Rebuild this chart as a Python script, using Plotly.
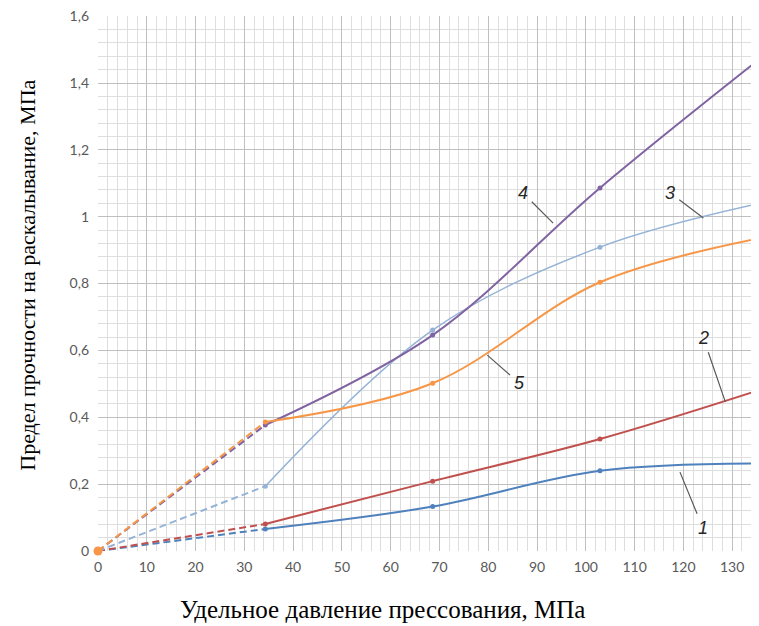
import plotly.graph_objects as go

# ---- data ----
pressure = [0, 34.3, 68.6, 102.9, 137.2]          # MPa
s1 = [0, 0.066, 0.133, 0.240, 0.262]
s2 = [0, 0.081, 0.209, 0.335, 0.489]
s3 = [0, 0.194, 0.661, 0.909, 1.045]
s4 = [0, 0.377, 0.646, 1.086, 1.490]
s5 = [0, 0.386, 0.502, 0.804, 0.940]
series = [s1, s2, s3, s4, s5]
curve_names = ["1", "2", "3", "4", "5"]
y_ticks = [0, 0.2, 0.4, 0.6, 0.8, 1.0, 1.2, 1.4, 1.6]
y_ticktext = ["0", "0,2", "0,4", "0,6", "0,8", "1", "1,2", "1,4", "1,6"]
x_ticks = list(range(0, 131, 10))

colors = ["#4f81bd", "#c0504d", "#95b3d7", "#8064a2", "#f79646"]
widths = [2, 2, 1.5, 2, 2]

fig = go.Figure()
for ser, c, w in zip(series, colors, widths):
    # dashed initial segment (extrapolated to origin)
    fig.add_trace(go.Scatter(
        x=pressure[:2], y=ser[:2], mode="lines",
        line=dict(color=c, width=w + 0.5 if w < 2 else w, dash="7px,4px"),
        hoverinfo="skip", showlegend=False))
    # smoothed solid part
    fig.add_trace(go.Scatter(
        x=pressure[1:], y=ser[1:], mode="lines+markers",
        line=dict(color=c, width=w, shape="spline", smoothing=1.0),
        marker=dict(color=c, size=5),
        showlegend=False))

# origin marker
fig.add_trace(go.Scatter(x=pressure[:1], y=s5[:1], mode="markers",
                         marker=dict(color="#f79646", size=9),
                         cliponaxis=False, showlegend=False))

# curve labels with leader lines: (x, y) on curve, (ax, ay) pixel offset of text
label_pos = {
    "4": (93.3, 0.981, -30, -30),
    "3": (124.1, 0.996, -33, -25),
    "5": (79.8, 0.586, 32, 28),
    "2": (128.6, 0.446, -22, -64),
    "1": (119.3, 0.236, 23, 56),
}
for name in curve_names:
    x, y, ax, ay = label_pos[name]
    fig.add_annotation(x=x, y=y, ax=ax, ay=ay, text=f"<i>{name}</i>",
                       showarrow=True, arrowhead=0, arrowwidth=1.2,
                       arrowcolor="#595959", startstandoff=3,
                       font=dict(family="Liberation Sans", size=18, color="#262626"))

fig.add_annotation(xref="paper", yref="paper", x=0.431, y=-0.110,
                   text="Удельное давление прессования, МПа", showarrow=False,
                   xanchor="center", yanchor="middle",
                   font=dict(family="Liberation Serif", size=25, color="#000000"))
fig.add_annotation(xref="paper", yref="paper", x=-0.107, y=0.515,
                   text="Предел прочности на раскалывание, МПа", showarrow=False,
                   textangle=-90, xanchor="center", yanchor="middle",
                   font=dict(family="Liberation Serif", size=22, color="#000000"))

tickfont = dict(family="Lato", size=14, color="#595959")
fig.update_xaxes(range=[0, 135.5], tickvals=x_ticks, tickfont=tickfont,
                 showgrid=True, gridcolor="#bfbfbf", gridwidth=1,
                 minor=dict(dtick=2, showgrid=True, gridcolor="#dedede", gridwidth=1),
                 zeroline=False, showline=False, ticks="", ticklabelstandoff=6,
                 ticklabeloverflow="allow")
fig.update_yaxes(range=[0, 1.6005], tickvals=y_ticks, ticktext=y_ticktext, tickfont=tickfont,
                 showgrid=True, gridcolor="#bfbfbf", gridwidth=1,
                 minor=dict(dtick=0.04, showgrid=True, gridcolor="#dedede", gridwidth=1),
                 zeroline=False, showline=False, ticks="", ticklabelstandoff=8,
                 ticklabeloverflow="allow")

# page body has an 8px default margin; compensate so the plot lands where the reference has it
fig.update_layout(width=759, height=626, margin=dict(l=90, r=8, t=8, b=83, autoexpand=False),
                  plot_bgcolor="white", paper_bgcolor="white")
fig.write_html("out.html")
